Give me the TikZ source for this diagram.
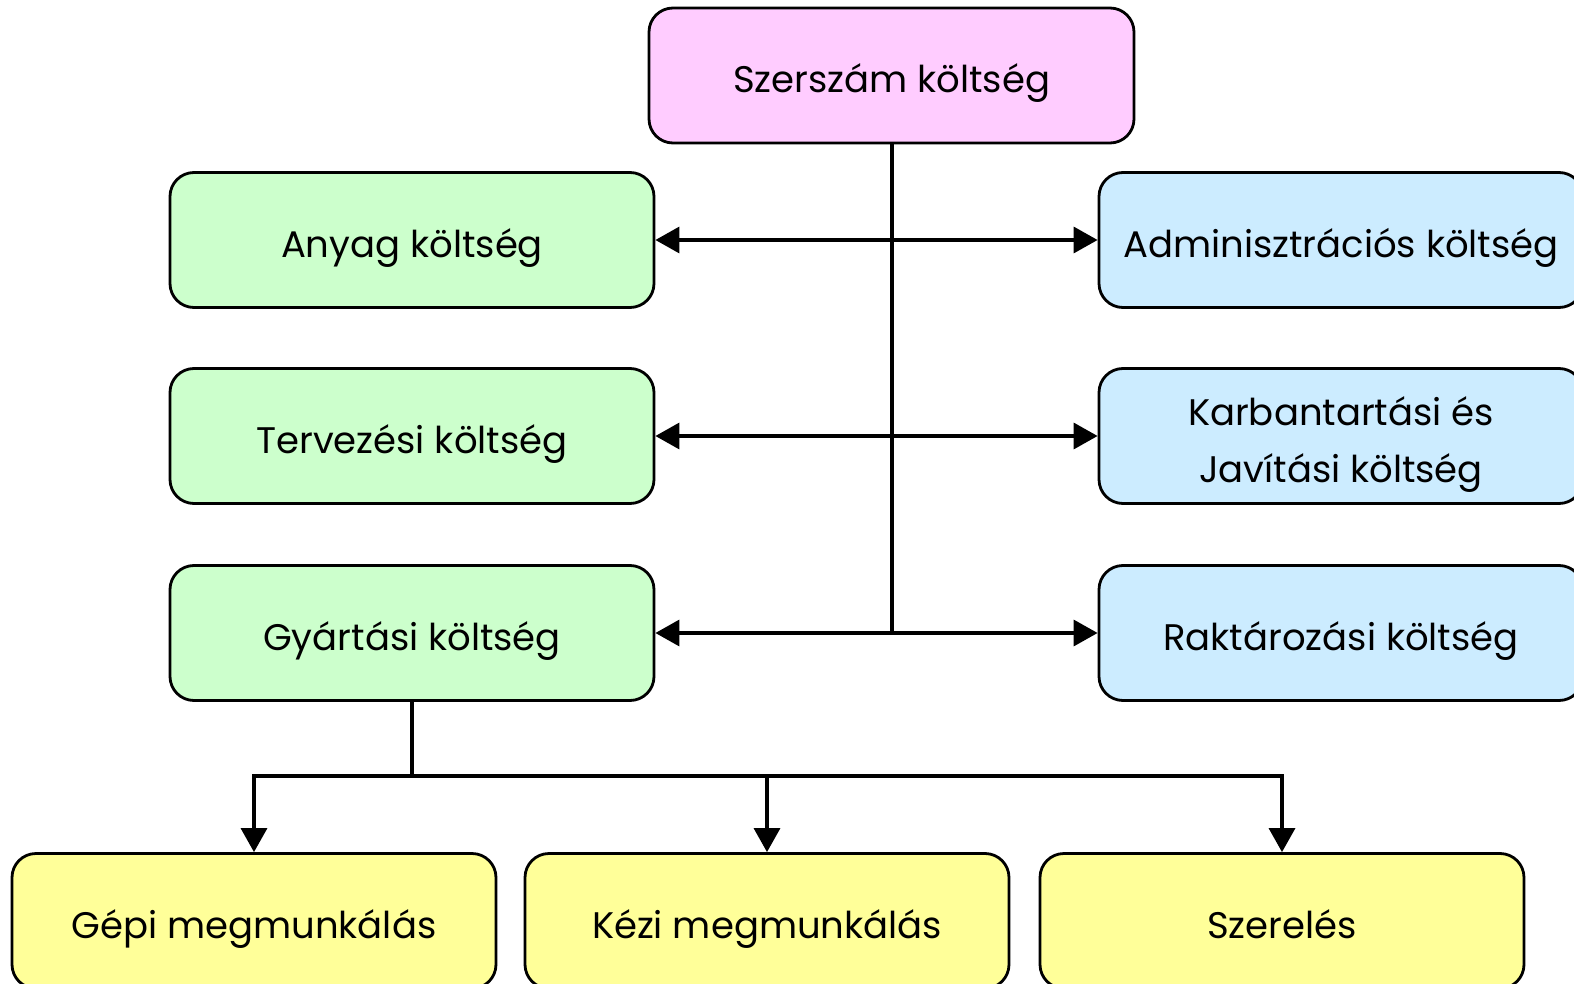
\documentclass[tikz,border=0pt]{standalone}
\usepackage{fontspec}
\setmainfont{Poppins}
\usetikzlibrary{arrows.meta}
\definecolor{cpink}{HTML}{FFCCFF}
\definecolor{cgreen}{HTML}{CCFFCC}
\definecolor{cblue}{HTML}{CCECFF}
\definecolor{cyellow}{HTML}{FFFF99}
\tikzset{
  box/.style={draw=black, line width=2.8pt, rounded corners=24pt, minimum width=484pt, minimum height=135pt, inner sep=0pt, align=center, font=\fontsize{37}{57}\selectfont, text height=35pt, text depth=0pt},
  conn/.style={line width=3.4pt, -{Triangle[length=24pt,width=26pt]}},
  plain/.style={line width=3.4pt}
}
\begin{document}
\begin{tikzpicture}[x=1pt,y=-1pt]
\useasboundingbox (0,0) rectangle (1574,984);
\node[box, fill=cpink, minimum width=485pt] (top) at (891.5,75.5) {Szerszám költség};
\node[box, fill=cgreen] (anyag) at (412,240) {Anyag költség};
\node[box, fill=cgreen] (terv) at (412,436) {Tervezési költség};
\node[box, fill=cgreen] (gyart) at (412,633) {Gyártási költség};
\node[box, fill=cblue] (admin) at (1341,240) {Adminisztrációs költség};
\node[box, fill=cblue, text height=92pt] (karb) at (1341,436) {Karbantartási és\\Javítási költség};
\node[box, fill=cblue] (rakt) at (1341,633) {Raktározási költség};
\node[box, fill=cyellow] (gepi) at (254,921) {Gépi megmunkálás};
\node[box, fill=cyellow] (kezi) at (767,921) {Kézi megmunkálás};
\node[box, fill=cyellow] (szer) at (1282,921) {Szerelés};
\coordinate (j1) at (892,240);
\coordinate (j2) at (892,436);
\coordinate (j3) at (892,633);
\coordinate (b0) at (412,776);
\coordinate (b1) at (254,776);
\coordinate (b2) at (767,776);
\coordinate (b3) at (1282,776);
\draw[plain] (top.south -| j1) -- (j3);
\draw[conn] (j1) -- (anyag.east);
\draw[conn] (j1) -- (admin.west);
\draw[conn] (j2) -- (terv.east);
\draw[conn] (j2) -- (karb.west);
\draw[conn] (j3) -- (gyart.east);
\draw[conn] (j3) -- (rakt.west);
\draw[plain] (gyart.south) -- (b0);
\draw[plain, line cap=rect] (b1) -- (b3);
\draw[conn] (b1) -- (gepi.north);
\draw[conn] (b2) -- (kezi.north);
\draw[conn] (b3) -- (szer.north);
\end{tikzpicture}
\end{document}
